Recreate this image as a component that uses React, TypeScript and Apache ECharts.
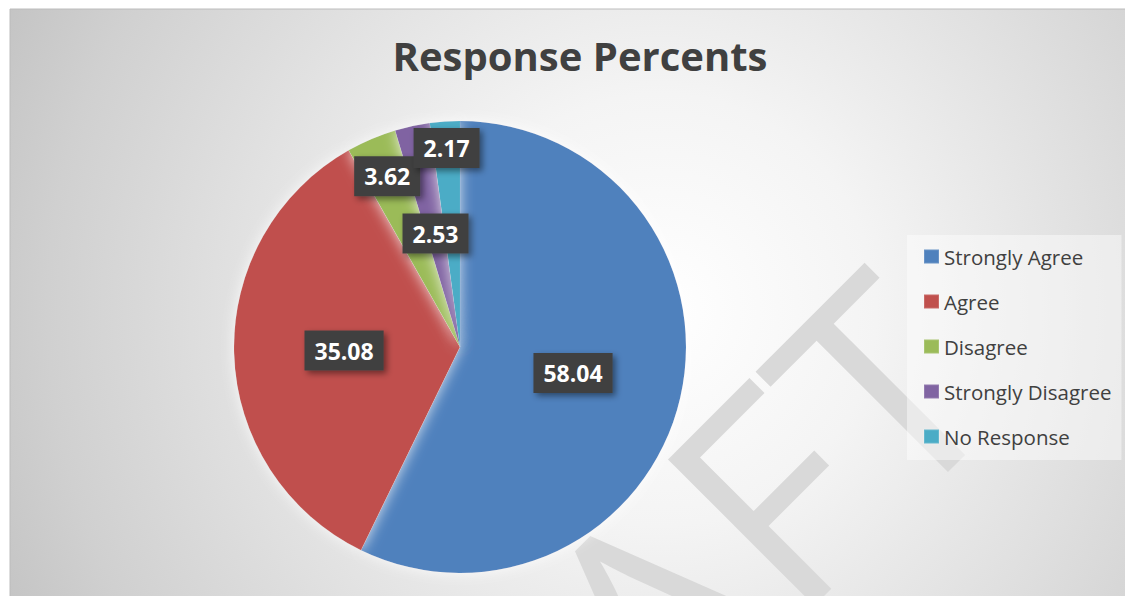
import React, { useEffect, useRef } from "react";
import * as echarts from "echarts";

const categories = ["Strongly Agree", "Agree", "Disagree", "Strongly Disagree", "No Response"];
const values = [58.04, 35.08, 3.62, 2.53, 2.17];
const colors = ["#4F81BD", "#C0504D", "#9BBB59", "#8064A2", "#4BACC6"];
const titleText = "Response Percents";
const watermarkText = "DRAFT";

// label placement as fraction of radius (layout, not data)
const labelRadiusFrac = [0.5, 0.5, 0.8, 0.5, 0.86];
const CX = 460;
const CY = 347;
const R = 226;

export default function App() {
  const ref = useRef<HTMLDivElement>(null);
  useEffect(() => {
    document.body.style.margin = "0";
    const chart = echarts.init(ref.current!, null, { renderer: "svg" });
    const option: any = {
      animation: false,
      backgroundColor: "#ffffff",
      title: {
        text: titleText,
        left: 575,
        top: 30,
        textAlign: "center",
        textStyle: {
          fontFamily: "Open Sans",
          fontWeight: "bold",
          fontSize: 40,
          color: "#404040",
        },
      },
      graphic: [
        {
          type: "rect",
          z: -20,
          silent: true,
          shape: { x: 10, y: 9, width: 1120, height: 592 },
          style: {
            fill: new echarts.graphic.RadialGradient(
              660,
              310,
              720,
              [
                { offset: 0, color: "#ffffff" },
                { offset: 0.3, color: "#f4f4f4" },
                { offset: 0.85, color: "#d0d0d0" },
                { offset: 1, color: "#c4c4c4" },
              ],
              true
            ),
            stroke: "#bcbcbc",
            lineWidth: 1,
          },
        },
        {
          type: "text",
          z: -10,
          silent: true,
          x: 1036,
          y: 430,
          rotation: Math.PI / 4,
          style: {
            text: watermarkText,
            fontFamily: "Open Sans",
            fontWeight: "normal",
            fontSize: 290,
            fill: "#d9d9d9",
            align: "right",
            verticalAlign: "bottom",
          },
        },
      ],
      legend: {
        orient: "vertical",
        left: 907,
        top: 235,
        padding: [11, 10, 13, 16],
        backgroundColor: "rgba(255,255,255,0.45)",
        itemWidth: 15,
        itemHeight: 14,
        itemGap: 24,
        icon: "rect",
        data: categories,
        textStyle: {
          fontFamily: "Open Sans",
          fontSize: 20.5,
          color: "#404040",
        },
      },
      series: [
        {
          type: "pie",
          center: [CX, CY],
          radius: [0, R],
          startAngle: 90,
          clockwise: true,
          silent: true,
          itemStyle: {
            borderColor: "rgba(255,255,255,0.15)",
            borderWidth: 0.5,
            shadowBlur: 14,
            shadowColor: "rgba(255,255,255,0.8)",
          },
          label: {
            show: true,
            position: "inside",
            formatter: (p: any) => p.value.toFixed(2),
            fontFamily: "Open Sans",
            fontWeight: "bold",
            fontSize: 23,
            lineHeight: 24,
            color: "#ffffff",
            backgroundColor: "#404040",
            padding: [8, 10, 8, 10],
            shadowColor: "rgba(0,0,0,0.45)",
            shadowBlur: 6,
            shadowOffsetX: 3,
            shadowOffsetY: 3,
          },
          labelLine: { show: false },
          labelLayout: (params: any) => {
            const r = params.labelRect;
            const lx = r.x + r.width / 2;
            const ly = r.y + r.height / 2;
            const f = labelRadiusFrac[params.dataIndex] / 0.5;
            return { dx: (lx - CX) * (f - 1), dy: (ly - CY) * (f - 1) };
          },
          data: categories.map((name, i) => ({
            name,
            value: values[i],
            itemStyle: { color: colors[i] },
          })),
        },
      ],
    };
    chart.setOption(option);
    return () => chart.dispose();
  }, []);
  return (
    <div
      ref={ref}
      style={{ position: "fixed", left: 0, top: 0, width: 1125, height: 596 }}
    />
  );
}
